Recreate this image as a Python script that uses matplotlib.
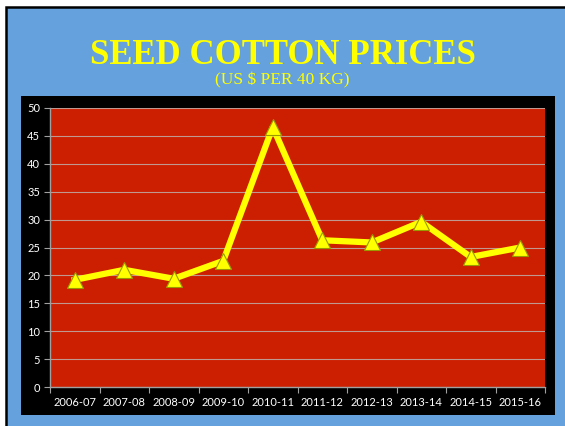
import matplotlib
matplotlib.use("Agg")
import matplotlib.pyplot as plt
from matplotlib.patches import Rectangle
import numpy as np

# Seed cotton prices, US $ per 40 kg
seasons = ["2006-07", "2007-08", "2008-09", "2009-10", "2010-11",
           "2011-12", "2012-13", "2013-14", "2014-15", "2015-16"]
prices = [19.2, 21.0, 19.4, 22.6, 46.6, 26.3, 25.9, 29.6, 23.3, 25.0]
y_ticks = [0, 5, 10, 15, 20, 25, 30, 35, 40, 45, 50]

W, H = 565, 426
fig = plt.figure(figsize=(W / 100, H / 100), dpi=100, facecolor="white")

# Blue slide background with thin black edge
fig.patches.append(Rectangle((6 / W, -0.02), 1.0, (H - 7) / H + 0.02, transform=fig.transFigure,
                             facecolor="#65a1dd", edgecolor="black", linewidth=1.8, zorder=0))
# Black chart area
fig.patches.append(Rectangle((21 / W, 11 / H), 534 / W, 319 / H, transform=fig.transFigure,
                             facecolor="black", edgecolor="none", zorder=1))

fig.text(0.5, (H - 64) / H, "SEED COTTON PRICES", color="#ffff00", ha="center", va="baseline",
         fontsize=25, fontweight="bold", family="Liberation Serif")
fig.text(0.5, (H - 84) / H, "(US $ PER 40 KG)", color="#ffff00", ha="center", va="baseline",
         fontsize=12.5, family="Liberation Serif")

ax = fig.add_axes([50 / W, 39 / H, 495 / W, 279 / H])
ax.set_zorder(5)
ax.set_facecolor("#cc1e00")
x = np.arange(len(seasons))
ax.plot(x, prices, color="#ffff00", linewidth=4.5, marker="^", markersize=12,
        markerfacecolor="#ffff00", markeredgecolor="#9a9a00", markeredgewidth=0.8, zorder=3)

ax.set_xlim(-0.5, len(seasons) - 0.5)
ax.set_ylim(0, 50)
ax.set_yticks(y_ticks)
ax.grid(axis="y", color="#c09890", linewidth=0.8)
ax.set_axisbelow(True)

ax.set_xticks(np.arange(-0.5, len(seasons), 1.0))
ax.set_xticklabels([])
ax.set_xticks(x, minor=True)
ax.set_xticklabels(seasons, minor=True)
ax.tick_params(axis="x", which="minor", length=0, pad=7, labelsize=8, labelcolor="white")
ax.tick_params(axis="x", which="major", length=4, color="#a0a0a0", direction="out")
ax.tick_params(axis="y", length=4, color="#a0a0a0", labelsize=8, labelcolor="white", pad=3)
for lab in ax.get_xticklabels(minor=True) + ax.get_yticklabels():
    lab.set_family("Lato")

for side in ["top", "right"]:
    ax.spines[side].set_visible(False)
for side in ["left", "bottom"]:
    ax.spines[side].set_color("#a0a0a0")
    ax.spines[side].set_linewidth(1)

fig.savefig("out.png", dpi=100, facecolor=fig.get_facecolor())
